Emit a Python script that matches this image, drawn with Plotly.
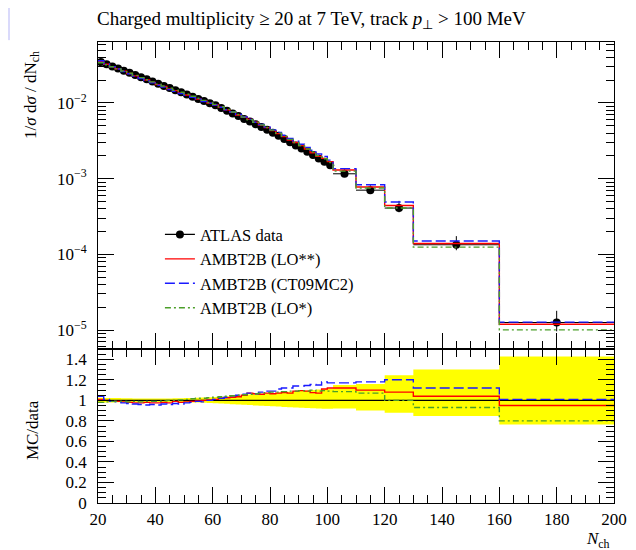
import plotly.graph_objects as go
from plotly.subplots import make_subplots

# bin edges in N_ch
bin_edges = [20, 22, 24, 26, 28, 30, 32, 34, 36, 38, 40, 42, 44, 46, 48, 50, 52, 54, 56, 58,
             60, 62, 64, 66, 68, 70, 72, 74, 76, 78, 80, 82, 84, 86, 88, 90, 92, 94, 96, 98,
             100, 102, 110, 120, 130, 160, 200]

# ATLAS data, 1/sigma dsigma/dNch
data_val = [3.47e-2, 3.25e-2, 3.04e-2, 2.85e-2, 2.67e-2, 2.50e-2, 2.34e-2, 2.19e-2, 2.05e-2, 1.92e-2,
            1.79e-2, 1.68e-2, 1.57e-2, 1.47e-2, 1.38e-2, 1.29e-2, 1.21e-2, 1.13e-2, 1.06e-2, 9.9e-3,
            9.3e-3, 8.6e-3, 7.91e-3, 7.28e-3, 6.70e-3, 6.16e-3, 5.67e-3, 5.22e-3, 4.80e-3, 4.41e-3,
            4.05e-3, 3.68e-3, 3.34e-3, 3.03e-3, 2.75e-3, 2.50e-3, 2.26e-3, 2.05e-3, 1.85e-3, 1.67e-3,
            1.50e-3, 1.16e-3, 7.05e-4, 4.09e-4, 1.34e-4, 1.26e-5]

# relative data uncertainty (down / up)
rel_err_dn = [0.022, 0.021, 0.020, 0.019, 0.018, 0.017, 0.016, 0.016, 0.015, 0.015,
              0.015, 0.015, 0.016, 0.017, 0.018, 0.019, 0.020, 0.022, 0.024, 0.026,
              0.028, 0.031, 0.034, 0.037, 0.040, 0.043, 0.046, 0.049, 0.052, 0.055,
              0.058, 0.061, 0.064, 0.067, 0.070, 0.073, 0.075, 0.077, 0.079, 0.081,
              0.083, 0.08, 0.10, 0.12, 0.153, 0.235]
rel_err_up = [0.025, 0.024, 0.023, 0.022, 0.021, 0.020, 0.019, 0.018, 0.018, 0.018,
              0.018, 0.018, 0.019, 0.020, 0.021, 0.022, 0.024, 0.026, 0.028, 0.030,
              0.033, 0.036, 0.040, 0.044, 0.048, 0.052, 0.056, 0.060, 0.064, 0.068,
              0.072, 0.076, 0.080, 0.084, 0.088, 0.092, 0.096, 0.100, 0.105, 0.110,
              0.115, 0.15, 0.16, 0.245, 0.30, 0.427]

# MC / data ratios
ratio_lo2 = [1.01, 1.00, 0.99, 0.99, 0.985, 0.98, 0.975, 0.975, 0.98, 0.975,
             0.975, 0.98, 0.975, 0.99, 0.98, 0.985, 0.99, 0.995, 1.00, 1.005,
             1.01, 1.02, 1.025, 1.03, 1.035, 1.05, 1.07, 1.065, 1.06, 1.07,
             1.065, 1.07, 1.075, 1.07, 1.09, 1.095, 1.09, 1.075, 1.07, 1.11,
             1.12, 1.12, 1.10, 1.08, 1.04, 0.95]
ratio_ct09 = [1.04, 1.01, 0.99, 0.985, 0.975, 0.97, 0.965, 0.96, 0.955, 0.96,
              0.955, 0.965, 0.96, 0.97, 0.965, 0.975, 0.98, 0.99, 0.985, 1.00,
              1.01, 1.02, 1.03, 1.045, 1.05, 1.06, 1.07, 1.065, 1.08, 1.09,
              1.09, 1.11, 1.12, 1.12, 1.14, 1.14, 1.145, 1.155, 1.15, 1.18,
              1.17, 1.17, 1.18, 1.20, 1.12, 1.01]
ratio_lo1 = [0.98, 0.985, 0.99, 0.99, 0.99, 0.985, 0.99, 0.985, 0.99, 0.99,
             0.99, 0.995, 1.00, 1.00, 1.005, 1.01, 1.015, 1.02, 1.02, 1.025,
             1.03, 1.035, 1.04, 1.045, 1.05, 1.055, 1.06, 1.065, 1.07, 1.075,
             1.08, 1.08, 1.085, 1.09, 1.09, 1.095, 1.09, 1.10, 1.09, 1.095,
             1.09, 1.085, 1.07, 1.00, 0.93, 0.80]

mc_names = ['AMBT2B (LO**)', 'AMBT2B (CT09MC2)', 'AMBT2B (LO*)']
mc_ratios = [ratio_lo2, ratio_ct09, ratio_lo1]
mc_colors = ['#ff0000', '#1a1aff', '#4c9f2a']
mc_dash = ['solid', '10px,4px', '6px,3px,2px,3px']

centers = [(a + b) / 2 for a, b in zip(bin_edges[:-1], bin_edges[1:])]
half_w = [(b - a) / 2 for a, b in zip(bin_edges[:-1], bin_edges[1:])]

FONT = 'Liberation Serif'
PAD = '\u2009\u2009'  # small gap between tick labels and the y axis

fig = make_subplots(rows=2, cols=1, vertical_spacing=0, row_heights=[0.666, 0.334])

# data points in main panel
fig.add_trace(go.Scatter(
    x=centers, y=data_val, mode='markers', showlegend=False,
    marker=dict(color='black', size=8),
    error_y=dict(type='data', symmetric=False,
                 array=[v * e for v, e in zip(data_val, rel_err_up)],
                 arrayminus=[v * e for v, e in zip(data_val, rel_err_dn)],
                 color='black', thickness=1, width=0),
    error_x=dict(type='data', array=half_w, color='black', thickness=1, width=0),
), row=1, col=1)
# legend entry for data (line + dot)
fig.add_trace(go.Scatter(x=[None], y=[None], mode='lines+markers', name='ATLAS data',
                         line=dict(color='black', width=1.3),
                         marker=dict(color='black', size=8)), row=1, col=1)

# MC histograms
for name, rat, col, dash in zip(mc_names, mc_ratios, mc_colors, mc_dash):
    mc = [d * r for d, r in zip(data_val, rat)]
    fig.add_trace(go.Scatter(x=bin_edges, y=mc + [mc[-1]], mode='lines', line_shape='hv',
                             name=name, line=dict(color=col, width=1.4, dash=dash)),
                  row=1, col=1)

# ratio panel: data uncertainty band
band_lo = [1 - e for e in rel_err_dn]
band_hi = [1 + e for e in rel_err_up]
fig.add_trace(go.Scatter(x=bin_edges, y=band_lo + [band_lo[-1]], mode='lines', line_shape='hv',
                         line=dict(width=0, color='#ffff00'), showlegend=False), row=2, col=1)
fig.add_trace(go.Scatter(x=bin_edges, y=band_hi + [band_hi[-1]], mode='lines', line_shape='hv',
                         line=dict(width=0, color='#ffff00'), fill='tonexty',
                         fillcolor='#ffff00', showlegend=False), row=2, col=1)
fig.add_trace(go.Scatter(x=[20, 200], y=[1, 1], mode='lines', line=dict(color='black', width=1.3),
                         showlegend=False), row=2, col=1)
for name, rat, col, dash in zip(mc_names, mc_ratios, mc_colors, mc_dash):
    fig.add_trace(go.Scatter(x=bin_edges, y=rat + [rat[-1]], mode='lines', line_shape='hv',
                             line=dict(color=col, width=1.4, dash=dash), showlegend=False),
                  row=2, col=1)

axis_common = dict(showline=True, linecolor='black', linewidth=1.2, mirror='allticks',
                   ticks='inside', tickcolor='black', tickwidth=1, ticklen=16,
                   showgrid=False, zeroline=False,
                   tickfont=dict(family=FONT, size=17, color='black'))

fig.update_xaxes(range=[20, 200], tick0=20, dtick=20,
                 minor=dict(dtick=5, ticks='inside', ticklen=8, tickcolor='black'),
                 **axis_common)
fig.update_xaxes(showticklabels=False, row=1, col=1)

minor_log = [m * 10.0 ** e for e in range(-6, -1) for m in range(2, 10)]
fig.update_yaxes(type='log', range=[-5.25, -1.195],
                 tickvals=[1e-5, 1e-4, 1e-3, 1e-2],
                 ticktext=['10<sup>−5</sup>' + PAD, '10<sup>−4</sup>' + PAD,
                           '10<sup>−3</sup>' + PAD, '10<sup>−2</sup>' + PAD],
                 minor=dict(tickvals=minor_log, ticks='inside', ticklen=8, tickcolor='black'),
                 row=1, col=1, **axis_common)
fig.update_yaxes(range=[0, 1.5],
                 tickvals=[0, 0.2, 0.4, 0.6, 0.8, 1, 1.2, 1.4],
                 ticktext=[t + PAD for t in ['0', '0.2', '0.4', '0.6', '0.8', '1', '1.2', '1.4']],
                 minor=dict(dtick=0.05, tick0=0, ticks='inside', ticklen=8, tickcolor='black'),
                 row=2, col=1, **axis_common)

# the page puts the figure 8px in from the top-left, margins allow for that
fig.update_layout(
    width=636, height=550,
    margin=dict(l=90, r=30, t=34, b=55),
    plot_bgcolor='white', paper_bgcolor='white',
    font=dict(family=FONT, color='black'),
    title=dict(text='Charged multiplicity ≥ 20 at 7 TeV, track <i>p</i><sub>⊥</sub> > 100 MeV',
               xref='container', x=89 / 636, xanchor='left', y=1 - 10 / 550, yanchor='middle',
               font=dict(family=FONT, size=19, color='black')),
    legend=dict(x=0.12, y=0.62, xanchor='left', yanchor='top', bgcolor='rgba(0,0,0,0)',
                traceorder='normal', font=dict(family=FONT, size=16.5, color='black')),
    shapes=[dict(type='rect', xref='paper', yref='paper', x0=-0.1744, x1=-0.1705,
                 y0=1.004, y1=1.091, fillcolor='#dadafb', line=dict(width=0))],
    annotations=[
        dict(text='1/<i>σ</i> d<i>σ</i> / dN<sub>ch</sub>', xref='paper', yref='paper',
             x=-0.128, y=0.885, textangle=-90, showarrow=False, xanchor='center', yanchor='middle',
             font=dict(family=FONT, size=17, color='black')),
        dict(text='MC/data', xref='paper', yref='paper', x=-0.128, y=0.158, textangle=-90,
             showarrow=False, xanchor='center', yanchor='middle',
             font=dict(family=FONT, size=17, color='black')),
        dict(text='<i>N</i><sub>ch</sub>', xref='paper', yref='paper', x=0.996, y=-0.08,
             showarrow=False, xanchor='right', yanchor='middle',
             font=dict(family=FONT, size=17, color='black')),
    ],
)

fig.write_html("out.html")
